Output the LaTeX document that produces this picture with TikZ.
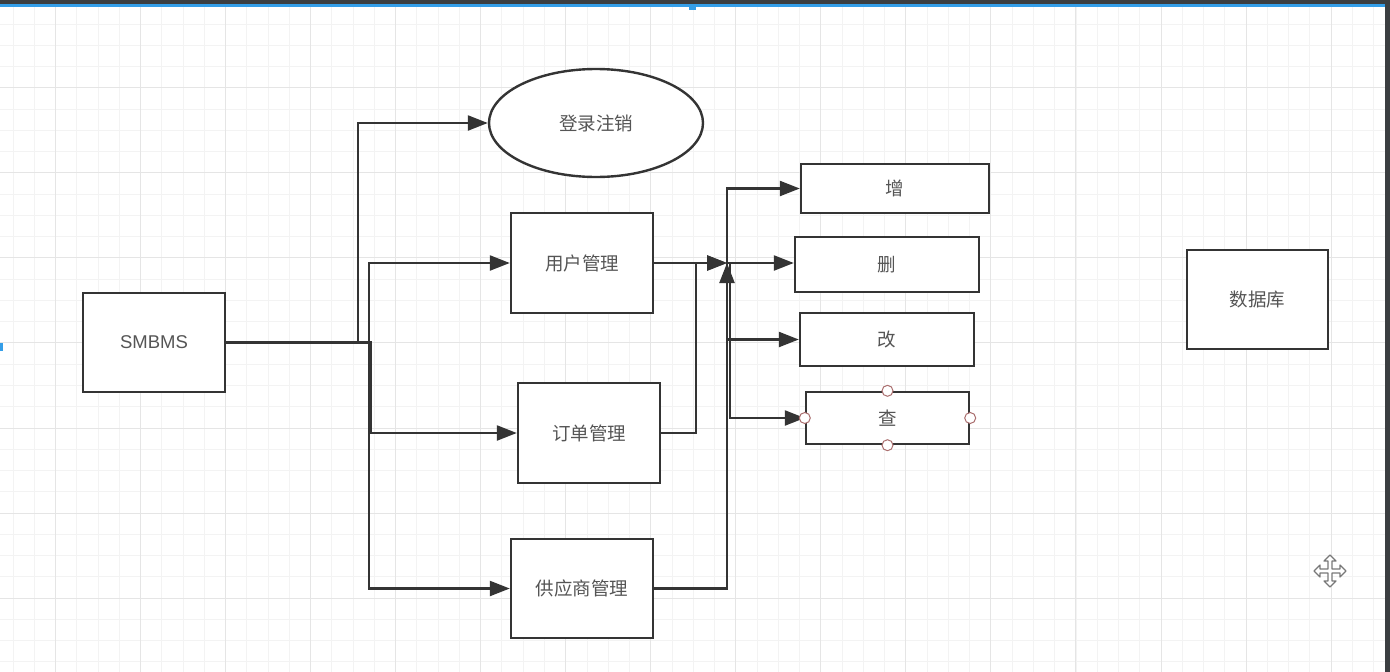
\documentclass[tikz,border=0pt]{standalone}
\usepackage{fontspec}
\setmainfont{Noto Sans CJK SC}
\newfontfamily\latinfont{Liberation Sans}
\usetikzlibrary{arrows.meta,shapes.geometric}
\definecolor{ln}{RGB}{52,52,52}
\definecolor{tx}{RGB}{85,85,85}
\definecolor{gminor}{RGB}{243,243,243}
\definecolor{gmajor}{RGB}{229,229,229}
\definecolor{bar}{RGB}{59,62,65}
\definecolor{sel}{RGB}{52,158,232}
\definecolor{cp}{RGB}{170,110,110}
\definecolor{cur}{RGB}{120,120,120}
\tikzset{
  box/.style={draw=ln, line width=2.4pt, fill=white, inner sep=0pt, text=tx,
    font=\fontsize{18.5}{21}\selectfont},
  oval/.style={box, ellipse},
  conn/.style={draw=ln, line width=2.3pt, -{Triangle[length=20pt,width=15pt]}},
  cpt/.style={circle, draw=cp, fill=white, line width=1pt, minimum size=11pt, inner sep=0pt},
}
\begin{document}
\begin{tikzpicture}[x=1pt,y=-1pt]
\useasboundingbox (0,0) rectangle (1390,672);
\fill[white] (0,0) rectangle (1390,672);
% grid
\foreach \k in {0,...,65} \draw[gminor, line width=1pt] ({13+21.26*\k},0) -- ({13+21.26*\k},672);
\foreach \k in {0,...,31} \draw[gminor, line width=1pt] (0,{2.8+21.26*\k}) -- (1390,{2.8+21.26*\k});
\foreach \m in {0,...,16} \draw[gmajor, line width=1pt] ({55.5+85.04*\m},0) -- ({55.5+85.04*\m},672);
\foreach \m in {0,...,7} \draw[gmajor, line width=1pt] (0,{2.8+85.04*\m}) -- (1390,{2.8+85.04*\m});
% window chrome
\fill[bar] (0,0) rectangle (1390,4);
\fill[sel] (0,4) rectangle (1390,7);
\fill[sel] (689,4) rectangle (696,10);
\fill[sel] (0,343) rectangle (3,351);
\fill[bar] (1385,0) rectangle (1390,672);

% nodes
\node[box, minimum width=142pt, minimum height=99pt] (smbms) at (154,342.5) {\latinfont SMBMS};
\node[oval, minimum width=214pt, minimum height=108pt] (login) at (596,123) {登录注销};
\node[box, minimum width=142pt, minimum height=100pt] (user) at (582,263) {用户管理};
\node[box, minimum width=142pt, minimum height=100pt] (order) at (589,433) {订单管理};
\node[box, minimum width=142pt, minimum height=99pt] (supp) at (582,588.5) {供应商管理};
\node[box, minimum width=188pt, minimum height=49pt] (add) at (895,188.5) {增};
\node[box, minimum width=184pt, minimum height=55pt] (del) at (887,264.5) {删};
\node[box, minimum width=174pt, minimum height=53pt] (mod) at (887,339.5) {改};
\node[box, minimum width=163pt, minimum height=52pt] (qry) at (887.5,418) {查};
\node[box, minimum width=141pt, minimum height=99pt] (db) at (1257.5,299.5) {数据库};

\coordinate (j) at (727,263);
\coordinate (jq) at (730,263);

% connectors from SMBMS
\draw[conn] (smbms.east) -- ++(132,0) |- (login.west);
\draw[conn] (smbms.east) -- ++(143,0) |- (user.west);
\draw[conn] (smbms.east) -- ++(145,0) |- (order.west);
\draw[conn] (smbms.east) -- ++(143,0) |- (supp.west);

% into junction
\draw[conn] (user.east) -- (j);
\draw[conn] (order.east) -- ++(35,0) |- (j);
\draw[conn] (supp.east) -| (j);

% out of junction
\draw[conn] (j) |- (add.west);
\draw[conn] (j) -- (j -| del.west);
\draw[conn] (j) |- (mod.west);
\draw[conn] (jq) |- (qry.west);

% connection points on the selected box
\node[cpt] (q1) at (qry.north) {};
\node[cpt] (q2) at (qry.south) {};
\node[cpt] (q3) at (qry.west) {};
\node[cpt] (q4) at (qry.east) {};

% move cursor
\begin{scope}[shift={(1330,571)}]
\draw[draw=cur, fill=white, line width=1.2pt, line join=round]
 (0,-16) -- (6,-10) -- (2,-10) -- (2,-2) -- (10,-2) -- (10,-6) -- (16,0) -- (10,6) -- (10,2) -- (2,2)
 -- (2,10) -- (6,10) -- (0,16) -- (-6,10) -- (-2,10) -- (-2,2) -- (-10,2) -- (-10,6) -- (-16,0)
 -- (-10,-6) -- (-10,-2) -- (-2,-2) -- (-2,-10) -- (-6,-10) -- cycle;
\end{scope}
\end{tikzpicture}
\end{document}
